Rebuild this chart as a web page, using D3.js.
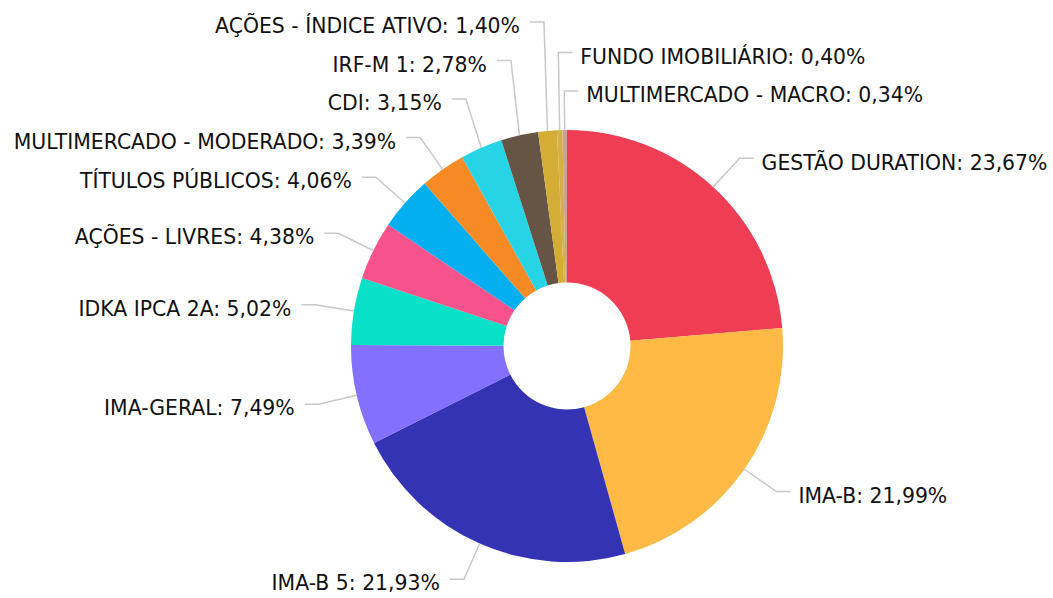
<!DOCTYPE html>
<html>
<head>
<meta charset="utf-8">
<script src="https://cdn.jsdelivr.net/npm/d3@7"></script>
<style>
  body { margin: 0; background: #fff; }
  text { font-family: "DejaVu Sans", Verdana, sans-serif; font-size: 20.4px; fill: #111; }
</style>
</head>
<body>
<div id="chart"></div>
<script>
// donut of portfolio allocation by strategy
const categories = [
  "GESTÃO DURATION", "IMA-B", "IMA-B 5", "IMA-GERAL", "IDKA IPCA 2A",
  "AÇÕES - LIVRES", "TÍTULOS PÚBLICOS", "MULTIMERCADO - MODERADO", "CDI",
  "IRF-M 1", "AÇÕES - ÍNDICE ATIVO", "FUNDO IMOBILIÁRIO", "MULTIMERCADO - MACRO"
];
const shares = [23.67, 21.99, 21.93, 7.49, 5.02, 4.38, 4.06, 3.39, 3.15, 2.78, 1.40, 0.40, 0.34];
const colors = [
  "#ef3e53", "#ffb945", "#3433b4", "#8370fd", "#08e0c7", "#f8538c", "#04aff0",
  "#f68b26", "#27d4e5", "#665545", "#d4ad36", "#d1b24a", "#c9a394"
];

const width = 1053, height = 598;
const cx = 567, cy = 346;
const outerR = 216, innerR = 63.5;
const elbowR = 255, tail = 14, gap = 38.5;

const data = categories.map((c, i) => ({ name: c, value: shares[i], color: colors[i] }));

const svg = d3.select("#chart").append("svg")
  .attr("width", width)
  .attr("height", height);

const g = svg.append("g").attr("transform", "translate(" + cx + "," + cy + ")");

const pie = d3.pie().sort(null).value(d => d.value);
const arc = d3.arc().innerRadius(innerR).outerRadius(outerR);
const arcs = pie(data);

g.selectAll("path.slice")
  .data(arcs)
  .enter()
  .append("path")
  .attr("class", "slice")
  .attr("d", arc)
  .attr("fill", d => d.data.color);

// label positions: start at the elbow radius, then push crowded ones upward
const fmt = v => v.toFixed(2).replace(".", ",") + "%";
const labels = arcs.map(d => {
  const a = (d.startAngle + d.endAngle) / 2;
  const ex = elbowR * Math.sin(a);
  const ey = -elbowR * Math.cos(a);
  return {
    d: d,
    a: a,
    sx: outerR * Math.sin(a),
    sy: -outerR * Math.cos(a),
    ex: ex,
    ey: ey,
    right: ex > -12
  };
});

// right side: order top to bottom (wrapped angles first), resolve from bottom up
const rightSide = labels.filter(l => l.right)
  .sort((p, q) => (p.a > Math.PI ? p.a - 2 * Math.PI : p.a) - (q.a > Math.PI ? q.a - 2 * Math.PI : q.a));
for (let i = rightSide.length - 2; i >= 0; i--) {
  rightSide[i].ey = Math.min(rightSide[i].ey, rightSide[i + 1].ey - gap);
}
// left side: top to bottom is angle descending
const leftSide = labels.filter(l => !l.right).sort((p, q) => q.a - p.a);
for (let i = leftSide.length - 2; i >= 0; i--) {
  leftSide[i].ey = Math.min(leftSide[i].ey, leftSide[i + 1].ey - gap);
}

const line = d3.line();
g.selectAll("path.leader")
  .data(labels)
  .enter()
  .append("path")
  .attr("class", "leader")
  .attr("d", l => line([[l.sx, l.sy], [l.ex, l.ey], [l.ex + (l.right ? tail : -tail), l.ey]]))
  .attr("fill", "none")
  .attr("stroke", "#c8c8c8")
  .attr("stroke-width", 1.5);

g.selectAll("text.label")
  .data(labels)
  .enter()
  .append("text")
  .attr("class", "label")
  .attr("x", l => l.ex + (l.right ? tail + 8 : -(tail + 10)))
  .attr("y", l => l.ey)
  .attr("dy", "0.55em")
  .attr("text-anchor", l => l.right ? "start" : "end")
  .text(l => l.d.data.name + ": " + fmt(l.d.data.value));
</script>
</body>
</html>
